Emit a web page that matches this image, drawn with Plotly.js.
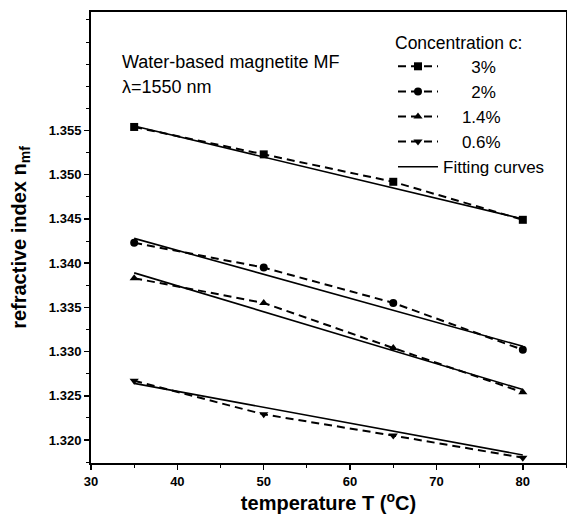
<!DOCTYPE html>
<html>
<head>
<meta charset="utf-8">
<script src="https://cdn.plot.ly/plotly-3.0.1.min.js"></script>
<style>html,body{margin:0;padding:0;background:#fff;}#chart{width:567px;height:516px;}</style>
</head>
<body>
<div id="chart"></div>
<script>
// Data
var temperature = [35, 50, 65, 80];
var n3 = [1.3554, 1.3523, 1.3492, 1.3449];
var n2 = [1.3423, 1.3395, 1.3355, 1.3302];
var n14 = [1.3383, 1.3355, 1.3304, 1.3254];
var n06 = [1.3267, 1.3229, 1.3205, 1.3180];
var fitT = [35, 80];
var fit3 = [1.3555, 1.3450];
var fit2 = [1.3428, 1.3306];
var fit14 = [1.3389, 1.3257];
var fit06 = [1.3264, 1.3183];
var seriesNames = ['3%', '2%', '1.4%', '0.6%'];
var legendPads = ['\u00a0\u00a0\u00a0\u00a0\u00a0\u00a0', '\u00a0\u00a0\u00a0\u00a0\u00a0\u00a0', '\u00a0\u00a0\u00a0\u00a0', '\u00a0\u00a0\u00a0\u00a0'];
var symbols = ['square', 'circle', 'triangle-up', 'triangle-down'];
var yTickVals = [1.320, 1.325, 1.330, 1.335, 1.340, 1.345, 1.350, 1.355];

var FONT = 'Liberation Sans, Arial, sans-serif';
var dataSets = [n3, n2, n14, n06];
var fits = [fit3, fit2, fit14, fit06];
var traces = [];
for (var i = 0; i < 4; i++) {
  traces.push({
    x: temperature, y: dataSets[i], type: 'scatter', mode: 'lines+markers',
    name: legendPads[i] + seriesNames[i],
    line: {color: '#000', width: 2, dash: '8px,5px'},
    marker: {symbol: symbols[i], size: 8, color: '#000'}
  });
}
for (var j = 0; j < 4; j++) {
  traces.push({
    x: fitT, y: fits[j], type: 'scatter', mode: 'lines',
    name: 'Fitting curves', showlegend: j === 0,
    line: {color: '#000', width: 1.6}
  });
}

var layout = {
  width: 567, height: 516,
  margin: {l: 91, r: 1, t: 12, b: 53},
  paper_bgcolor: '#fff', plot_bgcolor: '#fff',
  font: {family: FONT, color: '#000', size: 18},
  showlegend: true,
  legend: {
    xref: 'paper', yref: 'paper',
    title: {text: 'Concentration c:', font: {family: FONT, size: 17.5}},
    font: {family: FONT, size: 17, color: '#000'},
    bgcolor: 'rgba(0,0,0,0)', borderwidth: 0, itemwidth: 40,
    traceorder: 'normal'
  },
  xaxis: {
    range: [30, 85], tickmode: 'linear', tick0: 30, dtick: 10,
    ticks: 'outside', ticklen: 5, tickwidth: 1.5, tickcolor: '#000',
    minor: {tickmode: 'linear', tick0: 30, dtick: 5, ticks: 'outside', ticklen: 3, tickwidth: 1, tickcolor: '#000'},
    showline: true, linewidth: 2, linecolor: '#000', mirror: true,
    showgrid: false, zeroline: false,
    tickfont: {family: FONT, size: 13, weight: 'bold'},
    title: {text: 'temperature T (<sup>o</sup>C)', font: {family: FONT, size: 20, weight: 'bold'}, standoff: 8}
  },
  yaxis: {
    range: [1.3174, 1.3684], tickmode: 'array', tickvals: yTickVals, tickformat: '.3f',
    ticks: 'outside', ticklen: 5, tickwidth: 1.5, tickcolor: '#000',
    minor: {tickmode: 'linear', tick0: 1.32, dtick: 0.0025, ticks: 'outside', ticklen: 3, tickwidth: 1, tickcolor: '#000'},
    showline: true, linewidth: 2, linecolor: '#000', mirror: true,
    showgrid: false, zeroline: false,
    tickfont: {family: FONT, size: 13, weight: 'bold'},
    title: {text: 'refractive index n<sub>mf</sub>', font: {family: FONT, size: 20, weight: 'bold'}, standoff: 17}
  },
  annotations: [
    {text: 'Water-based magnetite MF', xref: 'paper', yref: 'paper', x: 0, y: 1, showarrow: false,
     xanchor: 'left', yanchor: 'middle', font: {family: FONT, size: 18}},
    {text: '\u03bb=1550 nm', xref: 'paper', yref: 'paper', x: 0, y: 1, showarrow: false,
     xanchor: 'left', yanchor: 'middle', font: {family: FONT, size: 18}}
  ]
};

// convert pixel placements into paper fractions
var plotW = 567 - 91 - 1, plotH = 516 - 12 - 53;
function px2x(px) { return (px - 91) / plotW; }
function py2y(py) { return 1 - (py - 12) / plotH; }
layout.legend.x = px2x(393); layout.legend.y = py2y(26);
layout.legend.xanchor = 'left'; layout.legend.yanchor = 'top';
layout.annotations[0].x = px2x(120); layout.annotations[0].y = py2y(62);
layout.annotations[1].x = px2x(120); layout.annotations[1].y = py2y(87);

Plotly.newPlot('chart', traces, layout, {displayModeBar: false, staticPlot: true});
</script>
</body>
</html>
